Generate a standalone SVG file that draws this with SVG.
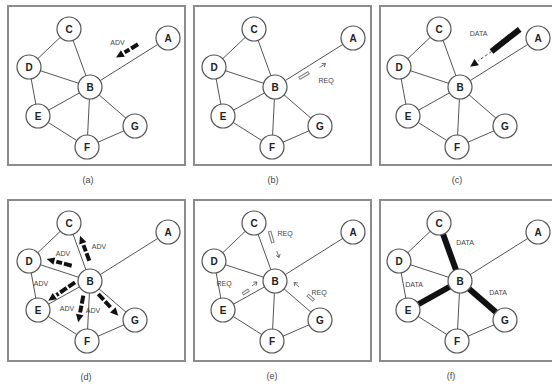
<svg xmlns="http://www.w3.org/2000/svg" width="552" height="387" viewBox="0 0 552 387">
  <style>
    .frame { fill: #fff; stroke: #8c8c8c; stroke-width: 2; }
    .edge { stroke: #555; stroke-width: 1; fill: none; }
    .node circle { fill: #fff; stroke: #555; stroke-width: 1.2; }
    .node text { font-family: "Liberation Sans", Arial, sans-serif; font-weight: bold; font-size: 10px; text-anchor: middle; fill: #222; }
    .cap { font-family: "Liberation Sans", Arial, sans-serif; font-size: 9px; text-anchor: middle; fill: #444; }
    .msg { font-family: "Liberation Sans", Arial, sans-serif; font-size: 7px; text-anchor: middle; fill: #444; }
    .adv { stroke: #111; stroke-width: 4; stroke-dasharray: 8 2; fill: none; marker-end: url(#advHead); }
    .req-out { stroke: #7a7a7a; stroke-width: 3.6; }
    .req-in { stroke: #fff; stroke-width: 1.4; }
    .tip { stroke: #666; stroke-width: 0.9; marker-end: url(#reqTip); }
    .data { stroke: #111; stroke-width: 6; }
    .data-bar { stroke: #111; stroke-width: 6; }
    .data-trail { stroke: #555; stroke-width: 1; stroke-dasharray: 3 2; marker-end: url(#advHead); }
  </style>
  <defs>
    <marker id="advHead" markerUnits="userSpaceOnUse" markerWidth="14" markerHeight="10" viewBox="-2 -5 14 10" refX="-2" refY="0" orient="auto" overflow="visible">
      <path d="M0,-3.8 L8,0 L0,3.8 z" fill="#111"/>
    </marker>
    <marker id="reqTip" markerUnits="userSpaceOnUse" markerWidth="6" markerHeight="6" viewBox="-4 -3 6 6" refX="0" refY="0" orient="auto" overflow="visible">
      <path d="M-3,-2.2 L0,0 L-3,2.2" fill="none" stroke="#666" stroke-width="0.9"/>
    </marker>
  </defs>

  <rect width="552" height="387" fill="#fff"/>

  <!-- panel frames -->
  <g id="frames">
    <rect class="frame" x="8" y="6" width="177" height="159"/>
    <rect class="frame" x="194" y="6" width="177" height="159"/>
    <rect class="frame" x="380" y="6" width="180" height="159"/>
    <rect class="frame" x="8" y="200" width="177" height="161"/>
    <rect class="frame" x="194" y="200" width="177" height="161"/>
    <rect class="frame" x="380" y="200" width="180" height="161"/>
  </g>

  <!-- captions -->
  <g id="captions">
    <text class="cap" x="88" y="183">(a)</text>
    <text class="cap" x="273" y="183">(b)</text>
    <text class="cap" x="457" y="183">(c)</text>
    <text class="cap" x="86" y="380">(d)</text>
    <text class="cap" x="272" y="379">(e)</text>
    <text class="cap" x="451" y="379">(f)</text>
  </g>

  <!-- (a) A advertises to B -->
  <g id="panel-a">
    <g id="a-connectors">
      <line class="edge" x1="69" y1="29" x2="29" y2="67"/>
      <line class="edge" x1="69" y1="29" x2="90" y2="87"/>
      <line class="edge" x1="29" y1="67" x2="90" y2="87"/>
      <line class="edge" x1="29" y1="67" x2="38" y2="116"/>
      <line class="edge" x1="38" y1="116" x2="90" y2="87"/>
      <line class="edge" x1="90" y1="87" x2="87" y2="147"/>
      <line class="edge" x1="90" y1="87" x2="135" y2="126"/>
      <line class="edge" x1="90" y1="87" x2="168" y2="38"/>
      <line class="edge" x1="38" y1="116" x2="87" y2="147"/>
      <line class="edge" x1="87" y1="147" x2="135" y2="126"/>
      <line class="adv" x1="138" y1="44.3" x2="124.6" y2="52.4"/>
      <text class="msg" x="117.5" y="45">ADV</text>
    </g>
    <g id="a-A" class="node"><circle cx="168" cy="38" r="12"/><text x="168" y="41.6">A</text></g>
    <g id="a-B" class="node"><circle cx="90" cy="87" r="12"/><text x="90" y="90.6">B</text></g>
    <g id="a-C" class="node"><circle cx="69" cy="29" r="12"/><text x="69" y="32.6">C</text></g>
    <g id="a-D" class="node"><circle cx="29" cy="67" r="12"/><text x="29" y="70.6">D</text></g>
    <g id="a-E" class="node"><circle cx="38" cy="116" r="12"/><text x="38" y="119.6">E</text></g>
    <g id="a-F" class="node"><circle cx="87" cy="147" r="12"/><text x="87" y="150.6">F</text></g>
    <g id="a-G" class="node"><circle cx="135" cy="126" r="12"/><text x="135" y="129.6">G</text></g>
  </g>

  <!-- (b) B requests from A -->
  <g id="panel-b" transform="translate(185,0)">
    <g id="b-connectors">
      <line class="edge" x1="69" y1="29" x2="29" y2="67"/>
      <line class="edge" x1="69" y1="29" x2="90" y2="87"/>
      <line class="edge" x1="29" y1="67" x2="90" y2="87"/>
      <line class="edge" x1="29" y1="67" x2="38" y2="116"/>
      <line class="edge" x1="38" y1="116" x2="90" y2="87"/>
      <line class="edge" x1="90" y1="87" x2="87" y2="147"/>
      <line class="edge" x1="90" y1="87" x2="135" y2="126"/>
      <line class="edge" x1="90" y1="87" x2="168" y2="38"/>
      <line class="edge" x1="38" y1="116" x2="87" y2="147"/>
      <line class="edge" x1="87" y1="147" x2="135" y2="126"/>
      <line class="req-out" x1="114" y1="78.5" x2="124" y2="72.5"/>
      <line class="req-in" x1="114.6" y1="78.1" x2="123.4" y2="72.9"/>
      <line class="tip" x1="134.5" y1="67.5" x2="140.5" y2="63.5"/>
      <text class="msg" x="141" y="82.5">REQ</text>
    </g>
    <g id="b-A" class="node"><circle cx="168" cy="38" r="12"/><text x="168" y="41.6">A</text></g>
    <g id="b-B" class="node"><circle cx="90" cy="87" r="12"/><text x="90" y="90.6">B</text></g>
    <g id="b-C" class="node"><circle cx="69" cy="29" r="12"/><text x="69" y="32.6">C</text></g>
    <g id="b-D" class="node"><circle cx="29" cy="67" r="12"/><text x="29" y="70.6">D</text></g>
    <g id="b-E" class="node"><circle cx="38" cy="116" r="12"/><text x="38" y="119.6">E</text></g>
    <g id="b-F" class="node"><circle cx="87" cy="147" r="12"/><text x="87" y="150.6">F</text></g>
    <g id="b-G" class="node"><circle cx="135" cy="126" r="12"/><text x="135" y="129.6">G</text></g>
  </g>

  <!-- (c) A sends data to B -->
  <g id="panel-c" transform="translate(370,0)">
    <g id="c-connectors">
      <line class="edge" x1="69" y1="29" x2="29" y2="67"/>
      <line class="edge" x1="69" y1="29" x2="90" y2="87"/>
      <line class="edge" x1="29" y1="67" x2="90" y2="87"/>
      <line class="edge" x1="29" y1="67" x2="38" y2="116"/>
      <line class="edge" x1="38" y1="116" x2="90" y2="87"/>
      <line class="edge" x1="90" y1="87" x2="87" y2="147"/>
      <line class="edge" x1="90" y1="87" x2="135" y2="126"/>
      <line class="edge" x1="90" y1="87" x2="168" y2="38"/>
      <line class="edge" x1="38" y1="116" x2="87" y2="147"/>
      <line class="edge" x1="87" y1="147" x2="135" y2="126"/>
      <line class="data-bar" x1="149.7" y1="29.3" x2="121.5" y2="51.5"/>
      <line class="data-trail" x1="121.5" y1="51.5" x2="108.3" y2="60.9"/>
      <text class="msg" x="108.5" y="35.5">DATA</text>
    </g>
    <g id="c-A" class="node"><circle cx="168" cy="38" r="12"/><text x="168" y="41.6">A</text></g>
    <g id="c-B" class="node"><circle cx="90" cy="87" r="12"/><text x="90" y="90.6">B</text></g>
    <g id="c-C" class="node"><circle cx="69" cy="29" r="12"/><text x="69" y="32.6">C</text></g>
    <g id="c-D" class="node"><circle cx="29" cy="67" r="12"/><text x="29" y="70.6">D</text></g>
    <g id="c-E" class="node"><circle cx="38" cy="116" r="12"/><text x="38" y="119.6">E</text></g>
    <g id="c-F" class="node"><circle cx="87" cy="147" r="12"/><text x="87" y="150.6">F</text></g>
    <g id="c-G" class="node"><circle cx="135" cy="126" r="12"/><text x="135" y="129.6">G</text></g>
  </g>

  <!-- (d) B advertises to its neighbours -->
  <g id="panel-d" transform="translate(0,194)">
    <g id="d-connectors">
      <line class="edge" x1="69" y1="29" x2="29" y2="67"/>
      <line class="edge" x1="69" y1="29" x2="90" y2="87"/>
      <line class="edge" x1="29" y1="67" x2="90" y2="87"/>
      <line class="edge" x1="29" y1="67" x2="38" y2="116"/>
      <line class="edge" x1="38" y1="116" x2="90" y2="87"/>
      <line class="edge" x1="90" y1="87" x2="87" y2="147"/>
      <line class="edge" x1="90" y1="87" x2="135" y2="126"/>
      <line class="edge" x1="90" y1="87" x2="168" y2="38"/>
      <line class="edge" x1="38" y1="116" x2="87" y2="147"/>
      <line class="edge" x1="87" y1="147" x2="135" y2="126"/>
      <line class="adv" x1="89.3" y1="66.7" x2="83.5" y2="51.1"/>
      <line class="adv" x1="71.7" y1="71.7" x2="56.3" y2="67.6"/>
      <line class="adv" x1="75" y1="88.3" x2="56.5" y2="101"/>
      <line class="adv" x1="83.3" y1="101.7" x2="80.1" y2="118.5"/>
      <line class="adv" x1="98.3" y1="100" x2="111.5" y2="114.4"/>
      <text class="msg" x="99" y="54.5">ADV</text>
      <text class="msg" x="63" y="62">ADV</text>
      <text class="msg" x="41" y="91.5">ADV</text>
      <text class="msg" x="67" y="117">ADV</text>
      <text class="msg" x="93" y="118.5">ADV</text>
    </g>
    <g id="d-A" class="node"><circle cx="168" cy="38" r="12"/><text x="168" y="41.6">A</text></g>
    <g id="d-B" class="node"><circle cx="90" cy="87" r="12"/><text x="90" y="90.6">B</text></g>
    <g id="d-C" class="node"><circle cx="69" cy="29" r="12"/><text x="69" y="32.6">C</text></g>
    <g id="d-D" class="node"><circle cx="29" cy="67" r="12"/><text x="29" y="70.6">D</text></g>
    <g id="d-E" class="node"><circle cx="38" cy="116" r="12"/><text x="38" y="119.6">E</text></g>
    <g id="d-F" class="node"><circle cx="87" cy="147" r="12"/><text x="87" y="150.6">F</text></g>
    <g id="d-G" class="node"><circle cx="135" cy="126" r="12"/><text x="135" y="129.6">G</text></g>
  </g>

  <!-- (e) C, E and G request from B -->
  <g id="panel-e" transform="translate(185,194)">
    <g id="e-connectors">
      <line class="edge" x1="69" y1="29" x2="29" y2="67"/>
      <line class="edge" x1="69" y1="29" x2="90" y2="87"/>
      <line class="edge" x1="29" y1="67" x2="90" y2="87"/>
      <line class="edge" x1="29" y1="67" x2="38" y2="116"/>
      <line class="edge" x1="38" y1="116" x2="90" y2="87"/>
      <line class="edge" x1="90" y1="87" x2="87" y2="147"/>
      <line class="edge" x1="90" y1="87" x2="135" y2="126"/>
      <line class="edge" x1="90" y1="87" x2="168" y2="38"/>
      <line class="edge" x1="38" y1="116" x2="87" y2="147"/>
      <line class="edge" x1="87" y1="147" x2="135" y2="126"/>
      <line class="req-out" x1="84.5" y1="37" x2="88" y2="49"/>
      <line class="req-in" x1="84.7" y1="37.7" x2="87.8" y2="48.3"/>
      <line class="tip" x1="91.8" y1="57" x2="94" y2="63.5"/>
      <text class="msg" x="100" y="42">REQ</text>
      <line class="req-out" x1="57.5" y1="100" x2="64" y2="96"/>
      <line class="req-in" x1="58.1" y1="99.6" x2="63.4" y2="96.4"/>
      <line class="tip" x1="67" y1="92" x2="72" y2="88"/>
      <text class="msg" x="39" y="91.5">REQ</text>
      <line class="req-out" x1="129" y1="106.5" x2="122.5" y2="101"/>
      <line class="req-in" x1="128.5" y1="106.1" x2="123" y2="101.4"/>
      <line class="tip" x1="114" y1="93" x2="109" y2="88.5"/>
      <text class="msg" x="134" y="101">REQ</text>
    </g>
    <g id="e-A" class="node"><circle cx="168" cy="38" r="12"/><text x="168" y="41.6">A</text></g>
    <g id="e-B" class="node"><circle cx="90" cy="87" r="12"/><text x="90" y="90.6">B</text></g>
    <g id="e-C" class="node"><circle cx="69" cy="29" r="12"/><text x="69" y="32.6">C</text></g>
    <g id="e-D" class="node"><circle cx="29" cy="67" r="12"/><text x="29" y="70.6">D</text></g>
    <g id="e-E" class="node"><circle cx="38" cy="116" r="12"/><text x="38" y="119.6">E</text></g>
    <g id="e-F" class="node"><circle cx="87" cy="147" r="12"/><text x="87" y="150.6">F</text></g>
    <g id="e-G" class="node"><circle cx="135" cy="126" r="12"/><text x="135" y="129.6">G</text></g>
  </g>

  <!-- (f) B sends data to C, E and G -->
  <g id="panel-f" transform="translate(370,194)">
    <g id="f-connectors">
      <line class="edge" x1="69" y1="29" x2="29" y2="67"/>
      <line class="edge" x1="29" y1="67" x2="90" y2="87"/>
      <line class="edge" x1="29" y1="67" x2="38" y2="116"/>
      <line class="edge" x1="90" y1="87" x2="87" y2="147"/>
      <line class="edge" x1="90" y1="87" x2="168" y2="38"/>
      <line class="edge" x1="38" y1="116" x2="87" y2="147"/>
      <line class="edge" x1="87" y1="147" x2="135" y2="126"/>
      <line class="data" x1="69" y1="29" x2="90" y2="87"/>
      <line class="data" x1="90" y1="87" x2="38" y2="116"/>
      <line class="data" x1="90" y1="87" x2="135" y2="126"/>
      <text class="msg" x="95" y="50.5">DATA</text>
      <text class="msg" x="44" y="92.5">DATA</text>
      <text class="msg" x="128" y="100.5">DATA</text>
    </g>
    <g id="f-A" class="node"><circle cx="168" cy="38" r="12"/><text x="168" y="41.6">A</text></g>
    <g id="f-B" class="node"><circle cx="90" cy="87" r="12"/><text x="90" y="90.6">B</text></g>
    <g id="f-C" class="node"><circle cx="69" cy="29" r="12"/><text x="69" y="32.6">C</text></g>
    <g id="f-D" class="node"><circle cx="29" cy="67" r="12"/><text x="29" y="70.6">D</text></g>
    <g id="f-E" class="node"><circle cx="38" cy="116" r="12"/><text x="38" y="119.6">E</text></g>
    <g id="f-F" class="node"><circle cx="87" cy="147" r="12"/><text x="87" y="150.6">F</text></g>
    <g id="f-G" class="node"><circle cx="135" cy="126" r="12"/><text x="135" y="129.6">G</text></g>
  </g>
</svg>
